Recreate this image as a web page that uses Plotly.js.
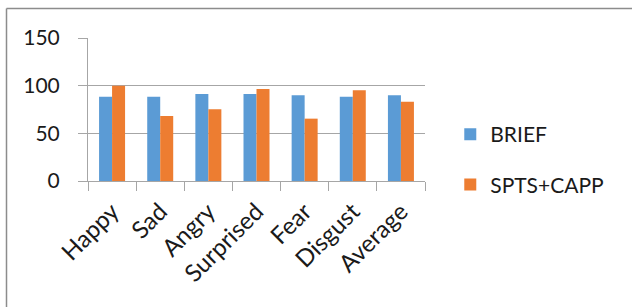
<!DOCTYPE html>
<html>
<head>
<meta charset="utf-8">
<script src="https://cdn.plot.ly/plotly-3.0.1.min.js"></script>
<style>html,body{margin:0;padding:0;background:#fff;}#chart{width:632px;height:307px;}</style>
</head>
<body>
<div id="chart"></div>
<script>
const categories = ["Happy", "Sad", "Angry", "Surprised", "Fear", "Disgust", "Average"];
const briefValues = [88.4, 88.4, 91.3, 91.3, 89.9, 88.4, 89.9];
const sptsCappValues = [100, 68.2, 75.2, 96.5, 65.4, 95.1, 83.2];
const seriesNames = ["BRIEF", "SPTS+CAPP"];
const yTicks = [0, 50, 100, 150];

const fontFam = "Lato, 'Open Sans', sans-serif";
const traces = [
  {type: "bar", x: categories, y: briefValues, name: seriesNames[0], legendgroup: "a",
   marker: {color: "#5B9BD5"}, hoverinfo: "none"},
  {type: "bar", x: categories, y: sptsCappValues, name: seriesNames[1], legendgroup: "b",
   marker: {color: "#ED7D31"}, hoverinfo: "none"}
];
const layout = {
  width: 632, height: 307,
  margin: {l: 88, r: 207, t: 38, b: 126},
  paper_bgcolor: "#fff", plot_bgcolor: "#fff",
  font: {family: fontFam, color: "#1a1a1a", size: 21},
  barmode: "group", bargap: 0.46, bargroupgap: 0,
  xaxis: {
    type: "category", tickangle: -45, tickfont: {size: 24},
    showline: true, linecolor: "#a6a6a6", linewidth: 1,
    ticks: "outside", tickson: "boundaries", ticklen: 9, tickcolor: "#a6a6a6",
    ticklabelstandoff: 6,
    showgrid: false, fixedrange: true
  },
  yaxis: {
    range: [0, 150], tickvals: yTicks, ticktext: yTicks.map(String),
    showgrid: true, gridcolor: "#a6a6a6", gridwidth: 1,
    showline: true, linecolor: "#a6a6a6", linewidth: 1,
    ticks: "outside", ticklen: 9, tickcolor: "#a6a6a6",
    ticklabelstandoff: 14, zeroline: false, tickfont: {size: 21}, fixedrange: true
  },
  showlegend: true,
  legend: {x: 1.075, xanchor: "left", y: 0.15, yanchor: "middle", font: {size: 21},
    traceorder: "grouped", tracegroupgap: 20, bgcolor: "rgba(0,0,0,0)"},
  shapes: [
    {type: "line", xref: "paper", yref: "paper", x0: -81.5/337, x1: 545/337, y0: (307-126-8.5)/143, y1: (307-126-8.5)/143,
     line: {color: "#8c8c8c", width: 1.5}},
    {type: "line", xref: "paper", yref: "paper", x0: -81.5/337, x1: -81.5/337, y0: -127/143, y1: (307-126-8.5)/143,
     line: {color: "#8c8c8c", width: 1.5}}
  ]
};
Plotly.newPlot("chart", traces, layout, {displayModeBar: false, staticPlot: true});
</script>
</body>
</html>
